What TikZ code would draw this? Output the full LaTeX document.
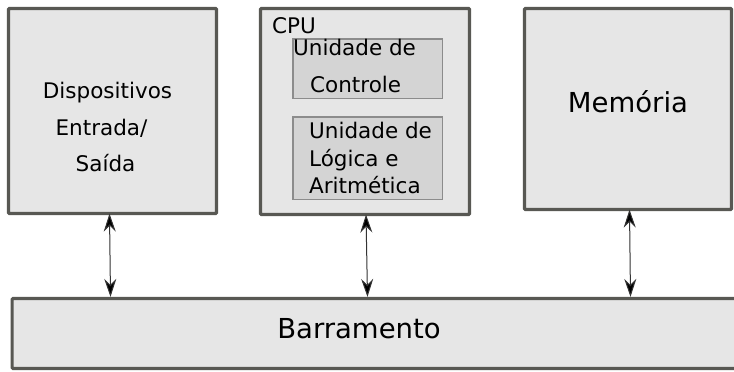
\documentclass[tikz,border=0pt]{standalone}
\usepackage{fontspec}
\setmainfont{DejaVu Sans}
\usetikzlibrary{arrows.meta}
\definecolor{boxfill}{RGB}{230,230,230}
\definecolor{boxline}{RGB}{88,88,83}
\definecolor{innerfill}{RGB}{212,212,212}
\definecolor{innerline}{RGB}{140,140,140}
\tikzset{
  mainbox/.style={draw=boxline, fill=boxfill, line width=3.2pt, inner sep=0pt, rounded corners=1pt},
  innerbox/.style={draw=innerline, fill=innerfill, line width=1.5pt, inner sep=0pt},
  smalltxt/.style={font=\fontsize{21.5}{26}\selectfont, inner sep=0pt, text=black},
  bigtxt/.style={font=\fontsize{27.5}{32}\selectfont, inner sep=0pt, text=black},
  link/.style={line width=1pt, draw=black!80, {Stealth[length=18pt,width=12pt,inset=6pt,fill=black]}-{Stealth[length=18pt,width=12pt,inset=6pt,fill=black]}}
}
\begin{document}
\begin{tikzpicture}[x=1pt,y=-1pt]
\useasboundingbox (0,0) rectangle (734,372);
\begin{scope}
\clip (0,0) rectangle (734,372);
% main boxes
\node[mainbox, minimum width=208pt, minimum height=205pt] (io) at (112.5,111) {};
\node[mainbox, minimum width=209pt, minimum height=206pt] (cpu) at (365,111.5) {};
\node[mainbox, minimum width=207pt, minimum height=201pt] (mem) at (628,109) {};
\node[mainbox, minimum width=740pt, minimum height=70pt, anchor=west] (bus) at (10.5,333.5) {};
% inner boxes
\node[innerbox, minimum width=149.5pt, minimum height=59.5pt] (cu) at (367.5,68.5) {};
\node[innerbox, minimum width=149.5pt, minimum height=82.5pt] (alu) at (367.5,158) {};
\end{scope}
% texts
\node[smalltxt, anchor=base] (io1) at (107.5,98) {Dispositivos};
\node[smalltxt, anchor=base] (io2) at (101.5,135) {Entrada/};
\node[smalltxt, anchor=base] (io3) at (105.5,171) {Saída};
\node[smalltxt, anchor=base west] (cput) at (272,34) {CPU};
\node[smalltxt, anchor=base west] (cu1) at (293,55) {Unidade de};
\node[smalltxt, anchor=base west] (cu2) at (310,92) {Controle};
\node[smalltxt, anchor=base west] (alu1) at (309,138) {Unidade de};
\node[smalltxt, anchor=base west] (alu2) at (309,166) {Lógica e};
\node[smalltxt, anchor=base west] (alu3) at (309,193) {Aritmética};
\node[bigtxt, anchor=base] (memt) at (628,112) {Memória};
\node[bigtxt, anchor=base] (bust) at (359,338) {Barramento};
% connectors
\draw[link] (io.south -| 109.5,0) ++(0,-1.5) -- (bus.north -| 110.5,0);
\draw[link] (cpu.south -| 366,0) ++(0,-1.5) -- (bus.north -| 367.5,0);
\draw[link] (mem.south -| 629.5,0) ++(0,-1.5) -- (bus.north -| 630.5,0);
\end{tikzpicture}
\end{document}
